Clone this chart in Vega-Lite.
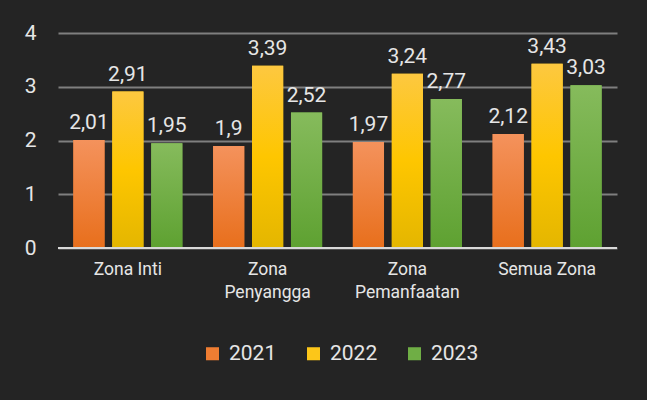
{
  "$schema": "https://vega.github.io/schema/vega-lite/v6.json",
  "width": 559,
  "height": 215,
  "autosize": {"type": "none"},
  "padding": {"left": 58, "top": 33, "right": 30, "bottom": 152},
  "background": "#242424",
  "config": {
    "font": "Roboto",
    "view": {"stroke": null},
    "locale": {"number": {"decimal": ",", "thousands": ".", "grouping": [3], "currency": ["", ""]}}
  },
  "data": {
    "values": [
      {"zona": "Zona Inti", "tahun": "2021", "nilai": 2.01},
      {"zona": "Zona Inti", "tahun": "2022", "nilai": 2.91},
      {"zona": "Zona Inti", "tahun": "2023", "nilai": 1.95},
      {"zona": "Zona Penyangga", "tahun": "2021", "nilai": 1.9},
      {"zona": "Zona Penyangga", "tahun": "2022", "nilai": 3.39},
      {"zona": "Zona Penyangga", "tahun": "2023", "nilai": 2.52},
      {"zona": "Zona Pemanfaatan", "tahun": "2021", "nilai": 1.97},
      {"zona": "Zona Pemanfaatan", "tahun": "2022", "nilai": 3.24},
      {"zona": "Zona Pemanfaatan", "tahun": "2023", "nilai": 2.77},
      {"zona": "Semua Zona", "tahun": "2021", "nilai": 2.12},
      {"zona": "Semua Zona", "tahun": "2022", "nilai": 3.43},
      {"zona": "Semua Zona", "tahun": "2023", "nilai": 3.03}
    ]
  },
  "encoding": {
    "x": {
      "field": "zona", "type": "nominal", "sort": null, "title": null,
      "scale": {"paddingInner": 0.22, "paddingOuter": 0.11},
      "axis": {
        "labelAngle": 0, "domain": false, "ticks": false, "labelPadding": 12,
        "labelFontSize": 17.5, "labelColor": "#e6e6e6", "labelLineHeight": 23,
        "labelExpr": "datum.label == 'Zona Penyangga' ? ['Zona', 'Penyangga'] : datum.label == 'Zona Pemanfaatan' ? ['Zona', 'Pemanfaatan'] : datum.label"
      }
    },
    "xOffset": {"field": "tahun", "type": "nominal", "scale": {"paddingInner": 0.2, "paddingOuter": 0}},
    "y": {
      "field": "nilai", "type": "quantitative", "title": null,
      "scale": {"domain": [0, 4]},
      "axis": {
        "values": [0, 1, 2, 3, 4], "domain": false, "ticks": false, "labelPadding": 22,
        "labelFontSize": 21, "labelColor": "#e6e6e6",
        "gridColor": "#7f7f7f", "gridWidth": 2
      }
    }
  },
  "layer": [
    {
      "mark": {"type": "bar"},
      "encoding": {
        "color": {
          "field": "tahun", "type": "nominal", "title": null,
          "scale": {"domain": ["2021", "2022", "2023"], "range": ["#ef7d32", "#fcc619", "#6fae45"]},
          "legend": {
            "orient": "none", "legendX": 144, "legendY": 310, "direction": "horizontal",
            "symbolType": "square", "symbolSize": 170, "symbolStrokeWidth": 0,
            "labelFontSize": 21, "labelColor": "#e6e6e6", "columnPadding": 26, "labelOffset": 6
          }
        }
      }
    },
    {
      "transform": [{"filter": "datum.tahun == '2021'"}],
      "mark": {"type": "bar", "color": {"gradient": "linear", "x1": 0, "y1": 0, "x2": 0, "y2": 1,
        "stops": [{"offset": 0, "color": "#f4925c"}, {"offset": 1, "color": "#e86f1c"}]}}
    },
    {
      "transform": [{"filter": "datum.tahun == '2022'"}],
      "mark": {"type": "bar", "color": {"gradient": "linear", "x1": 0, "y1": 0, "x2": 0, "y2": 1,
        "stops": [{"offset": 0, "color": "#fdc840"}, {"offset": 0.5, "color": "#fec600"}, {"offset": 1, "color": "#e4b600"}]}}
    },
    {
      "transform": [{"filter": "datum.tahun == '2023'"}],
      "mark": {"type": "bar", "color": {"gradient": "linear", "x1": 0, "y1": 0, "x2": 0, "y2": 1,
        "stops": [{"offset": 0, "color": "#86bb5c"}, {"offset": 1, "color": "#5ea131"}]}}
    },
    {
      "mark": {"type": "text", "baseline": "bottom", "dy": -7, "fontSize": 21, "color": "#e6e6e6"},
      "encoding": {"text": {"field": "nilai", "type": "quantitative", "format": ".3~g"}}
    },
    {
      "data": {"values": [{"nol": 0}]},
      "mark": {"type": "rule", "color": "#d9d9d9", "strokeWidth": 2},
      "encoding": {"y": {"field": "nol", "type": "quantitative"}, "x": null, "xOffset": null}
    }
  ]
}
